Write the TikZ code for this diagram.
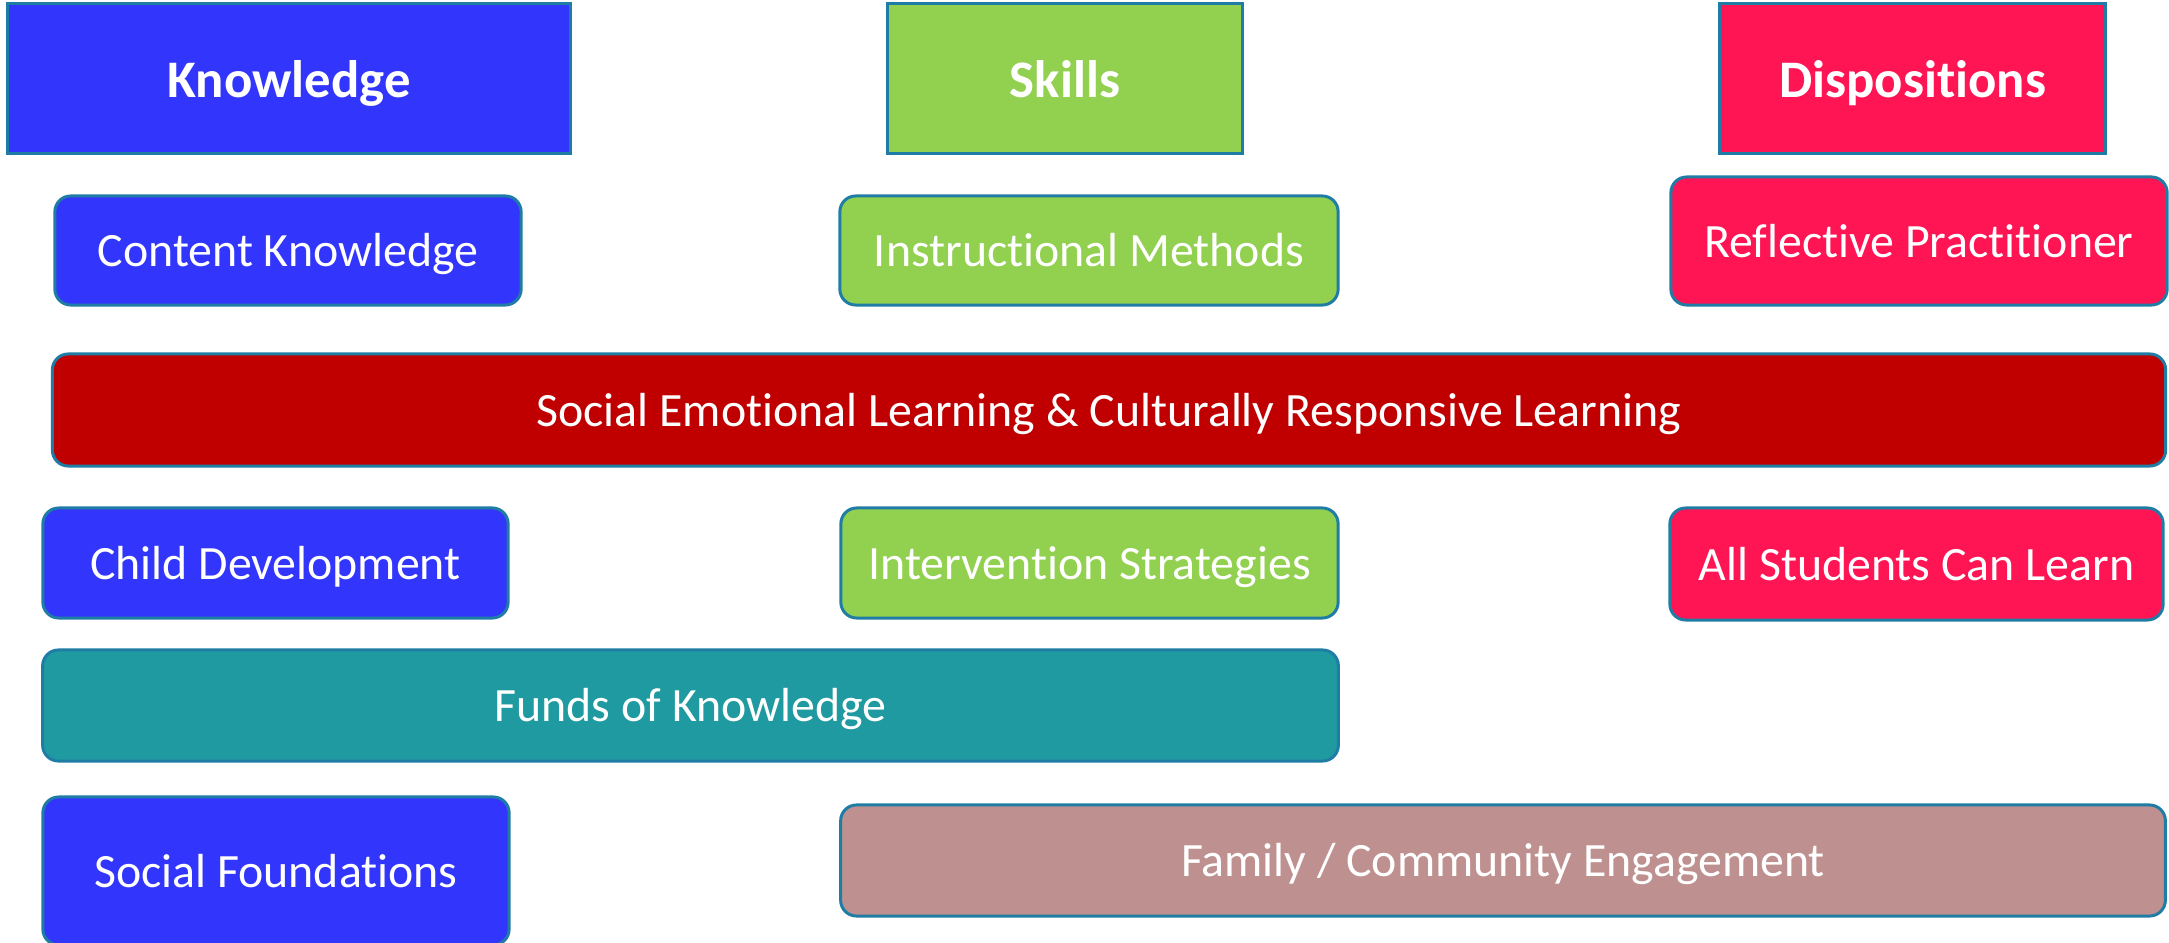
\documentclass[tikz,border=0pt]{standalone}
\usepackage{fontspec}
\setmainfont{Carlito}[Ligatures=NoCommon]
\usetikzlibrary{positioning}

\definecolor{edgeblue}{RGB}{31,125,165}
\definecolor{knowblue}{RGB}{50,54,252}
\definecolor{skillgreen}{RGB}{146,208,80}
\definecolor{dispopink}{RGB}{255,20,84}
\definecolor{selred}{RGB}{192,0,0}
\definecolor{fundteal}{RGB}{31,154,160}
\definecolor{familyrose}{RGB}{190,145,144}

\tikzset{
  headbox/.style={draw=edgeblue,line width=0.85pt,text=white,inner sep=0pt,
    text height=12.6pt,text depth=1.8pt,
    font=\fontsize{15}{18}\selectfont\bfseries},
  itembox/.style={draw=edgeblue,line width=0.85pt,text=white,inner sep=0pt,
    text height=11pt,text depth=1.8pt,
    rounded corners=4.5pt,font=\fontsize{13.6}{16}\selectfont}
}

\begin{document}
\begin{tikzpicture}[x=0.01cm,y=-0.01cm]
  \useasboundingbox (0,0) rectangle (2169,943);
  % column heads
  \node[headbox,fill=knowblue,minimum width=5.62cm,minimum height=1.49cm]  (know)  at (289,78.5)    {Knowledge};
  \node[headbox,fill=skillgreen,minimum width=3.54cm,minimum height=1.49cm] (skill) at (1065,78.5)   {Skills};
  \node[headbox,fill=dispopink,minimum width=3.85cm,minimum height=1.49cm]  (dispo) at (1912.5,78.5) {Dispositions};
  % first row
  \node[itembox,fill=knowblue,minimum width=4.66cm,minimum height=1.09cm]   (content) at (288,250.5)  {Content Knowledge};
  \node[itembox,fill=skillgreen,minimum width=4.98cm,minimum height=1.09cm] (instr)   at (1089,250.5) {Instructional Methods};
  \node[itembox,fill=dispopink,minimum width=4.96cm,minimum height=1.28cm]  (reflect) at (1919,241)   {Reflective Practitioner};
  % spans all three columns
  \node[itembox,fill=selred,minimum width=21.12cm,minimum height=1.12cm]    (sel) at (1109,410)
    {Social Emotional Learning \& Culturally Responsive Learning};
  % second row
  \node[itembox,fill=knowblue,minimum width=4.65cm,minimum height=1.10cm]   (child)   at (275.5,563)  {Child Development};
  \node[itembox,fill=skillgreen,minimum width=4.97cm,minimum height=1.10cm] (interv)  at (1089.5,563) {Intervention Strategies};
  \node[itembox,fill=dispopink,minimum width=4.93cm,minimum height=1.12cm]  (allstud) at (1916.5,564) {All Students Can Learn};
  % wide bars
  \node[itembox,fill=fundteal,minimum width=12.95cm,minimum height=1.11cm]  (funds)  at (690.5,705.5) {Funds of Knowledge};
  \node[itembox,fill=knowblue,minimum width=4.66cm,minimum height=1.48cm]   (social) at (276,871)     {Social Foundations};
  \node[itembox,fill=familyrose,minimum width=13.24cm,minimum height=1.11cm] (family) at (1503,860.5) {Family / Community Engagement};
\end{tikzpicture}
\end{document}
